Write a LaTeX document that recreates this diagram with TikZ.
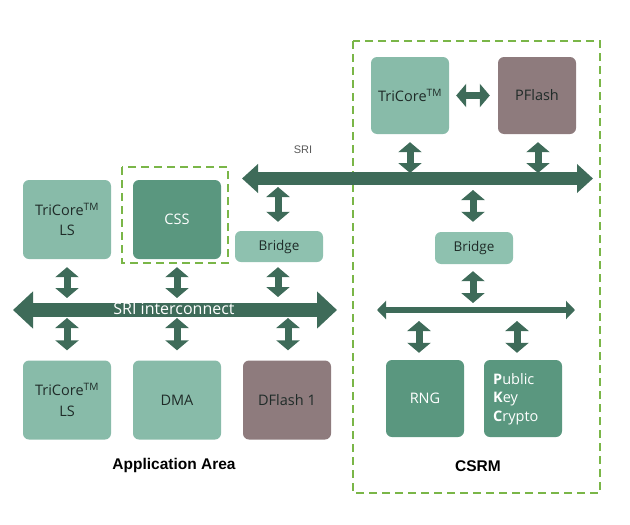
\documentclass[tikz,border=0pt]{standalone}
\usepackage{fontspec}
\setmainfont{Open Sans}
\newfontfamily\labelfont{Liberation Sans}
\usetikzlibrary{arrows.meta}

\definecolor{boxlight}{HTML}{88BBA9}
\definecolor{boxbridge}{HTML}{8EC1AF}
\definecolor{boxdark}{HTML}{5A977F}
\definecolor{boxflash}{HTML}{8E7B7D}
\definecolor{arrowgreen}{HTML}{3E6B59}
\definecolor{frame}{HTML}{7AB648}
\definecolor{textdark}{HTML}{1F2B28}

\begin{document}
\begin{tikzpicture}[x=1pt,y=-1pt,
   every node/.style={rounded corners=6pt,inner sep=0pt,align=center,
                      font=\fontsize{14.5}{20.5}\selectfont,text=textdark},
   lightbox/.style={fill=boxlight,minimum width=88pt,minimum height=79pt},
   darkbox/.style={fill=boxdark,text=white,minimum width=78pt,minimum height=77pt},
   flashbox/.style={fill=boxflash,minimum width=88pt,minimum height=79pt},
   bridgebox/.style={fill=boxbridge,minimum height=31pt,
                     font=\fontsize{13.5}{15}\selectfont},
   link/.style={draw=arrowgreen,line width=7pt,
                {Triangle[width=23pt,length=10pt]}-{Triangle[width=23pt,length=10pt]}},
   bus/.style={draw=arrowgreen,line width=14pt,
               {Triangle[width=36pt,length=20pt]}-{Triangle[width=36pt,length=20pt]}},
   dashbox/.style={draw=frame,line width=2.5pt,dash pattern=on 8pt off 5pt}]
   \useasboundingbox (0,0) rectangle (630,525);

   % application area
   \node[lightbox] (tcA) at (67,219.5) {TriCore\textsuperscript{TM}\\LS};
   \node[lightbox,fill=boxdark,text=white] (css) at (177,219.5) {CSS};
   \node[bridgebox,minimum width=88pt] (brA) at (279,246.5) {Bridge};
   \node[lightbox] (tcB) at (67,400) {TriCore\textsuperscript{TM}\\LS};
   \node[lightbox] (dma) at (177,400) {DMA};
   \node[flashbox] (dfl) at (287,400) {DFlash 1};
   \draw[dashbox] (122,167) rectangle (228,263);

   \coordinate (sriW) at (13,310);
   \coordinate (sriE) at (337,310);
   \draw[bus] (sriW) -- (sriE);
   \node[text=white,font=\fontsize{16}{18}\selectfont] (sriL) at (174,309) {SRI interconnect};

   \draw[link,shorten <=8pt,shorten >=12pt] (tcA.south) -- (tcA.south |- sriW);
   \draw[link,shorten <=8pt,shorten >=12pt] (css.south) -- (css.south |- sriW);
   \draw[link,shorten <=5pt,shorten >=13pt] ([xshift=-1pt]brA.south) -- ([xshift=-1pt]brA.south |- sriW);
   \draw[link,shorten <=8pt,shorten >=10pt] (tcB.north |- sriW) -- (tcB.north);
   \draw[link,shorten <=8pt,shorten >=10pt] (dma.north |- sriW) -- (dma.north);
   \draw[link,shorten <=8pt,shorten >=10pt] ([xshift=1pt]dfl.north |- sriW) -- ([xshift=1pt]dfl.north);

   \node[font=\labelfont\fontsize{15.5}{18}\selectfont\bfseries,text=black] (appL) at (174,465) {Application Area};

   % CSRM
   \node[lightbox,minimum width=78pt,minimum height=77pt] (tcC) at (410,95.5) {TriCore\textsuperscript{TM}};
   \node[flashbox,minimum width=78pt,minimum height=77pt] (pfl) at (537,95.5) {PFlash};
   \node[bridgebox,minimum width=78pt,minimum height=32pt] (brB) at (474,248) {Bridge};
   \node[darkbox] (rng) at (425,398.5) {RNG};
   \node[darkbox] (pkc) at (523,398.5) {};
   \node[text=white,align=left,font=\fontsize{14.5}{18.5}\selectfont,anchor=west] (pkcT) at (493,399)
        {\textbf{P}ublic\\\textbf{K}ey\\\textbf{C}rypto};
   \draw[dashbox] (353,41) rectangle (600,493);

   \coordinate (sriTW) at (242,178.5);
   \coordinate (sriTE) at (593,178.5);
   \draw[bus,line width=13pt,{Triangle[width=28pt,length=16pt]}-{Triangle[width=28pt,length=16pt]}] (sriTW) -- (sriTE);
   \node[text=black!65,font=\labelfont\fontsize{11}{13}\selectfont] (sriT) at (303,150) {SRI};

   \coordinate (locW) at (377,310);
   \coordinate (locE) at (575,310);
   \draw[bus,line width=6pt,{Triangle[width=18pt,length=9pt]}-{Triangle[width=18pt,length=9pt]}] (locW) -- (locE);

   \draw[link,shorten <=7pt,shorten >=8pt] (tcC.east) -- (pfl.west);
   \draw[link,shorten <=8pt,shorten >=5.5pt] (tcC.south) -- (tcC.south |- sriTW);
   \draw[link,shorten <=8pt,shorten >=5.5pt] ([xshift=1pt]pfl.south) -- ([xshift=1pt]pfl.south |- sriTW);
   \draw[link,shorten <=9pt,shorten >=8.5pt] ([xshift=-1pt]brA.north) -- ([xshift=-1pt]brA.north |- sriTW);
   \draw[link,shorten <=11.5pt,shorten >=10pt] ([xshift=-1pt]brB.north |- sriTW) -- ([xshift=-1pt]brB.north);
   \draw[link,shorten <=7pt,shorten >=7pt] ([xshift=-1pt]brB.south) -- ([xshift=-1pt]brB.south |- locW);
   \draw[link,shorten <=11pt,shorten >=7pt] ([xshift=-6pt]rng.north |- locW) -- ([xshift=-6pt]rng.north);
   \draw[link,shorten <=11pt,shorten >=7pt] ([xshift=-6pt]pkc.north |- locW) -- ([xshift=-6pt]pkc.north);

   \node[font=\labelfont\fontsize{15.5}{18}\selectfont\bfseries,text=black] (csrmL) at (478,466) {CSRM};
\end{tikzpicture}
\end{document}
